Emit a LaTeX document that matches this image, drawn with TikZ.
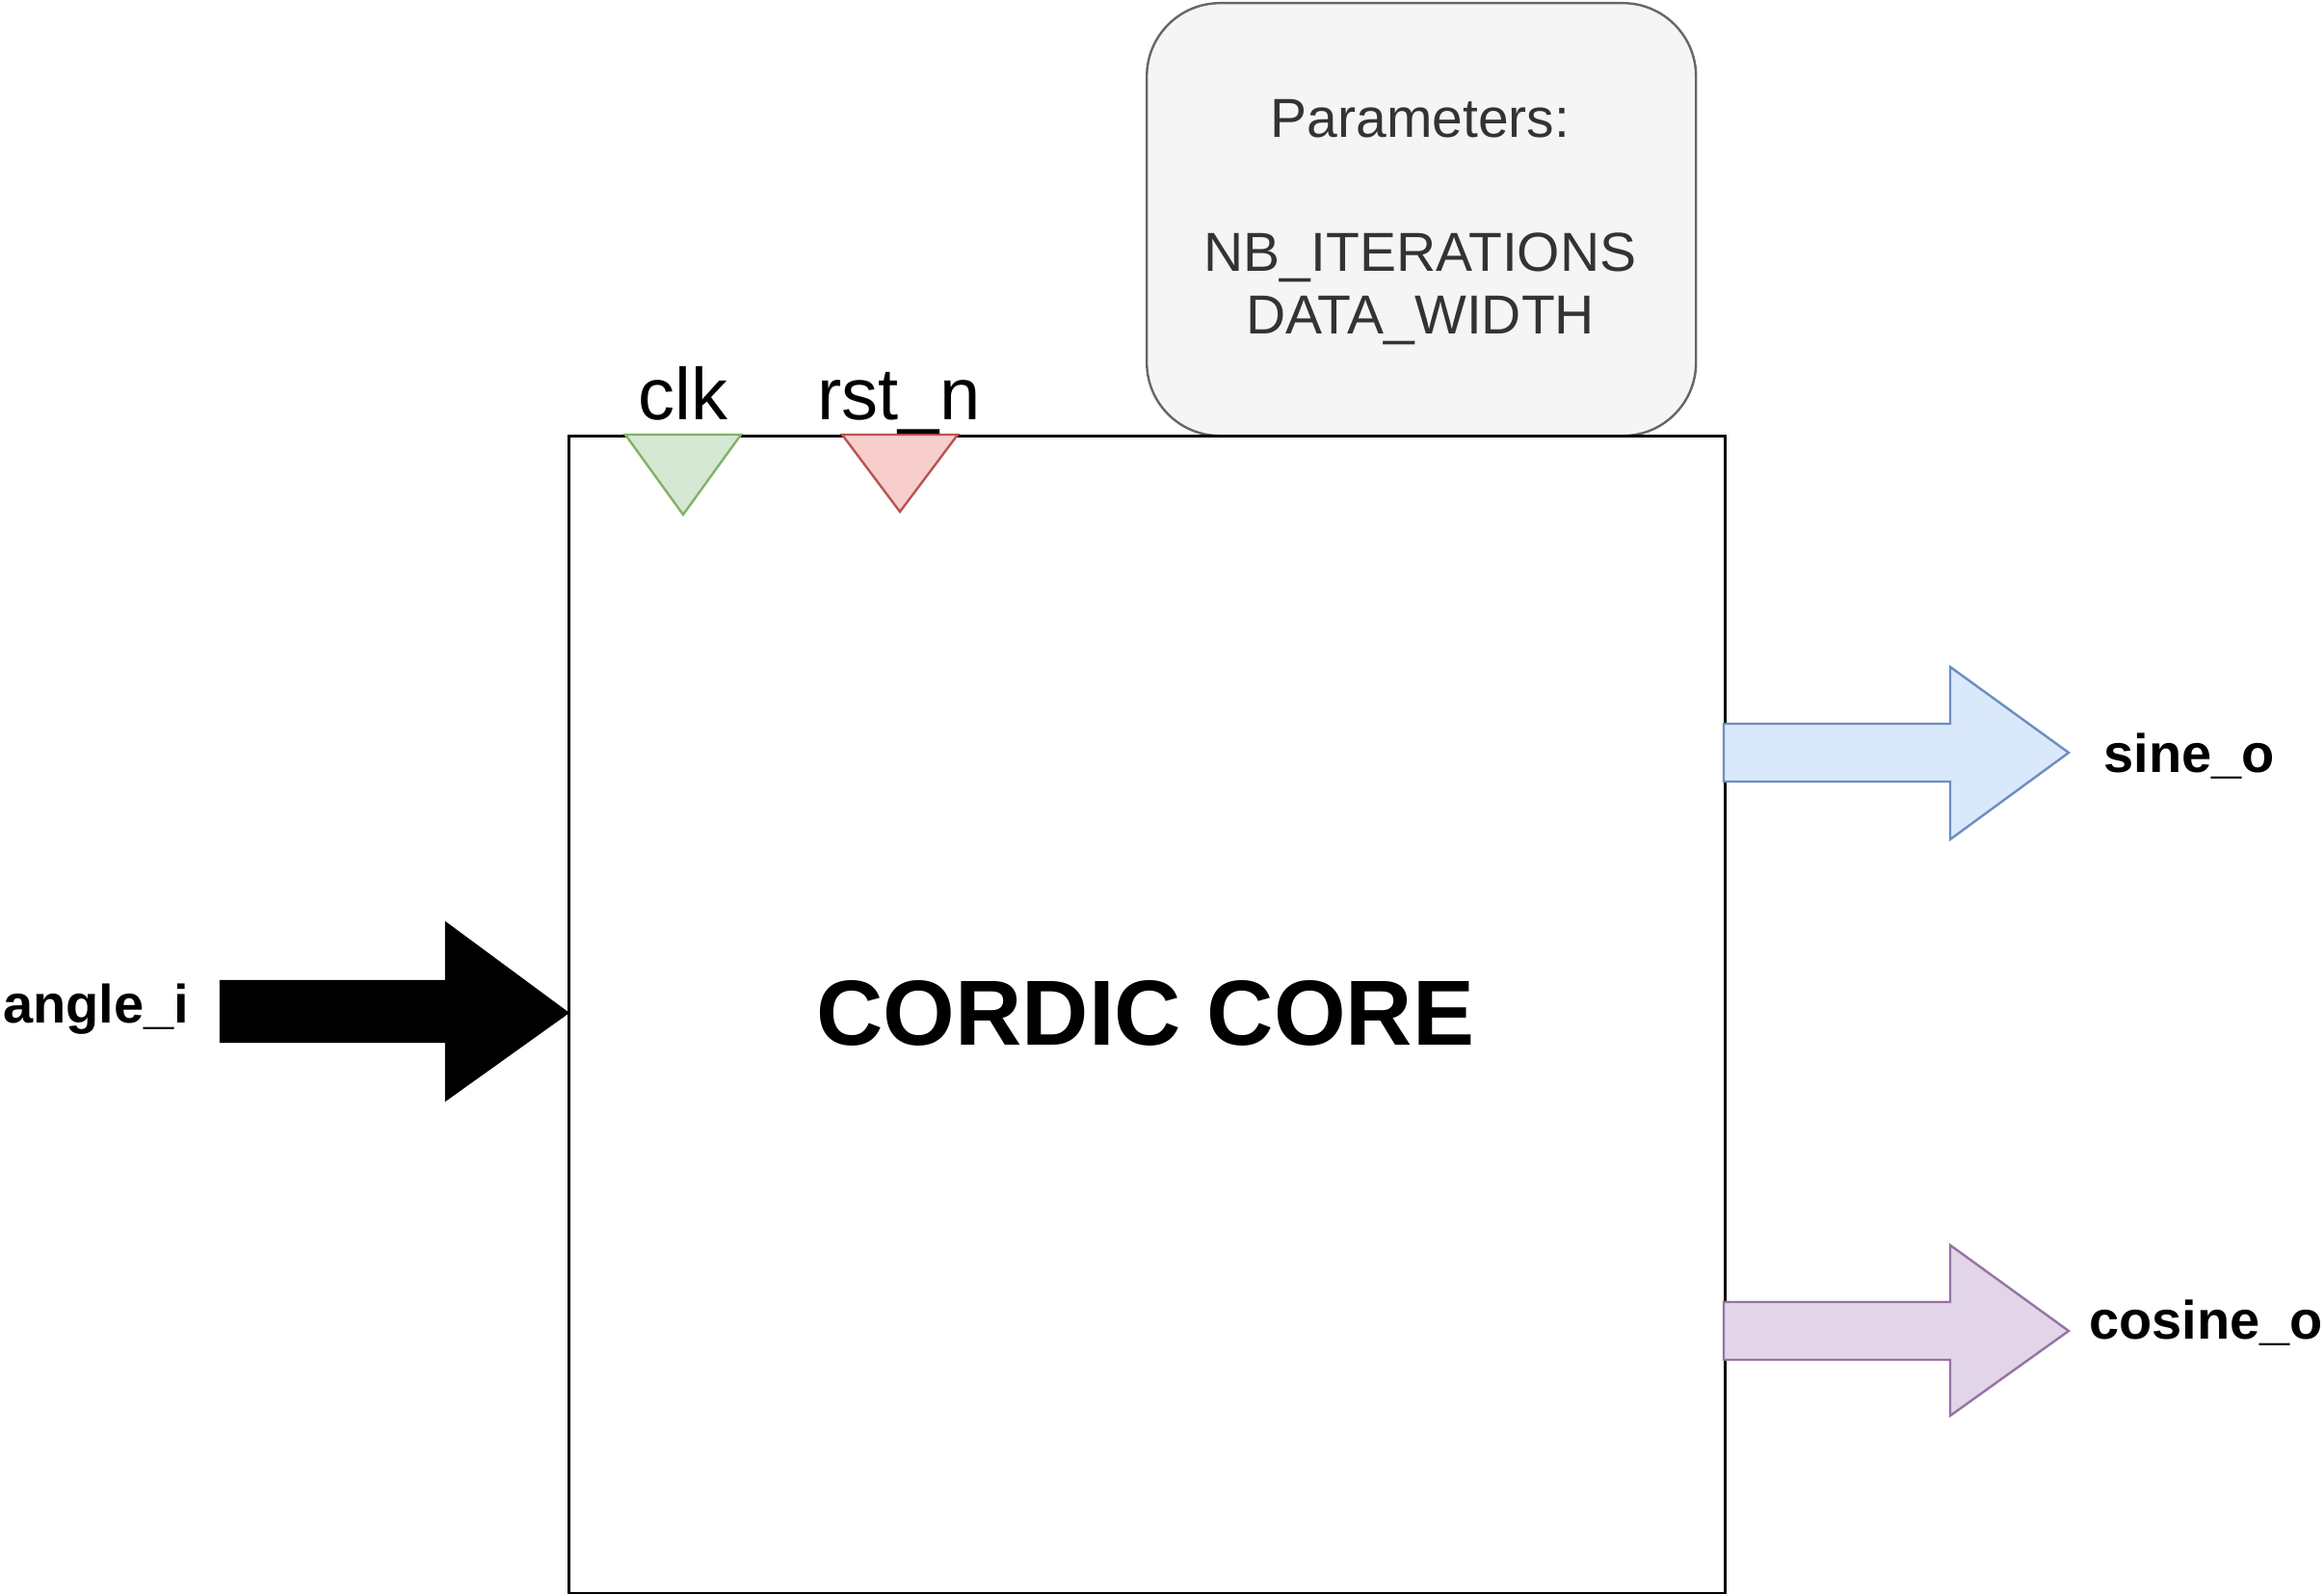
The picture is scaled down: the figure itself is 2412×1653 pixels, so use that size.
\documentclass[tikz,border=0pt]{standalone}
\usepackage{fontspec}
\setmainfont{Liberation Sans}
\definecolor{gfill}{HTML}{D5E8D4}\definecolor{gline}{HTML}{82B366}
\definecolor{rfill}{HTML}{F8CECC}\definecolor{rline}{HTML}{B85450}
\definecolor{bfill}{HTML}{DAE8FC}\definecolor{bline}{HTML}{6C8EBF}
\definecolor{pfill}{HTML}{E1D5E7}\definecolor{pline}{HTML}{9673A6}
\definecolor{kfill}{HTML}{F5F5F5}\definecolor{kline}{HTML}{666666}
\definecolor{ktext}{HTML}{333333}
\tikzset{
  sig/.style={font=\fontsize{28}{34}\selectfont\bfseries, inner sep=0pt, anchor=base},
  port/.style={font=\fontsize{38}{46}\selectfont, inner sep=0pt, anchor=base},
  ptext/.style={text=ktext, font=\fontsize{28.5}{32}\selectfont, inner sep=0pt, anchor=base},
  blockarrow/.style={line width=1.2pt, line join=miter},
}
\begin{document}
\begin{tikzpicture}[x=0.5pt,y=-0.5pt]
\useasboundingbox (0,0) rectangle (2412,1653);
% parameters box
\node[draw=kline, fill=kfill, line width=1.2pt, rounded corners=38pt, minimum width=285pt, minimum height=224.5pt, anchor=north west, inner sep=0pt] (params) at (1189,2) {};
\node[ptext] (ptitle) at (1474,143) {Parameters:};
\node[ptext] (pnb) at (1474,281) {NB\_ITERATIONS};
\node[ptext] (pdw) at (1474,346) {DATA\_WIDTH};
% main box
\node[draw=black, line width=1.6pt, minimum width=600pt, minimum height=600.5pt, anchor=north west, inner sep=0pt] (core) at (589,451) {};
\node[font=\fontsize{48}{58}\selectfont\bfseries, inner sep=0pt, anchor=base] (title) at (1189,1084) {CORDIC CORE};
% clk / rst triangles
\coordinate (clkA) at (649,451); \coordinate (clkB) at (769,451); \coordinate (clkC) at (709,534);
\draw[fill=gfill, draw=gline, line width=1.2pt, line join=miter] (clkA) -- (clkB) -- (clkC) -- cycle;
\coordinate (rstA) at (874,451); \coordinate (rstB) at (994,451); \coordinate (rstC) at (934,531);
\draw[fill=rfill, draw=rline, line width=1.2pt, line join=miter] (rstA) -- (rstB) -- (rstC) -- cycle;
\node[port] (clk) at (709,435) {clk};
\node[port] (rst) at (933,435) {rst\_n};
% sine arrow
\coordinate (sinT) at (2147,781);
\draw[blockarrow, fill=bfill, draw=bline] (1789,751) -- (2024,751) -- (2024,692) -- (sinT) -- (2024,871) -- (2024,811) -- (1789,811) -- cycle;
\node[sig] (sine) at (2272,801) {sine\_o};
% cosine arrow
\coordinate (cosT) at (2147,1381);
\draw[blockarrow, fill=pfill, draw=pline] (1789,1351) -- (2024,1351) -- (2024,1292) -- (cosT) -- (2024,1469) -- (2024,1411) -- (1789,1411) -- cycle;
\node[sig, anchor=base west] (cosine) at (2168,1389) {cosine\_o};
% angle arrow
\coordinate (angT) at (589,1051);
\draw[blockarrow, fill=black, draw=black] (229,1018) -- (463,1018) -- (463,958) -- (angT) -- (463,1141) -- (463,1081) -- (229,1081) -- cycle;
\node[sig, anchor=base west] (angle) at (3,1061) {angle\_i};
\end{tikzpicture}
\end{document}
